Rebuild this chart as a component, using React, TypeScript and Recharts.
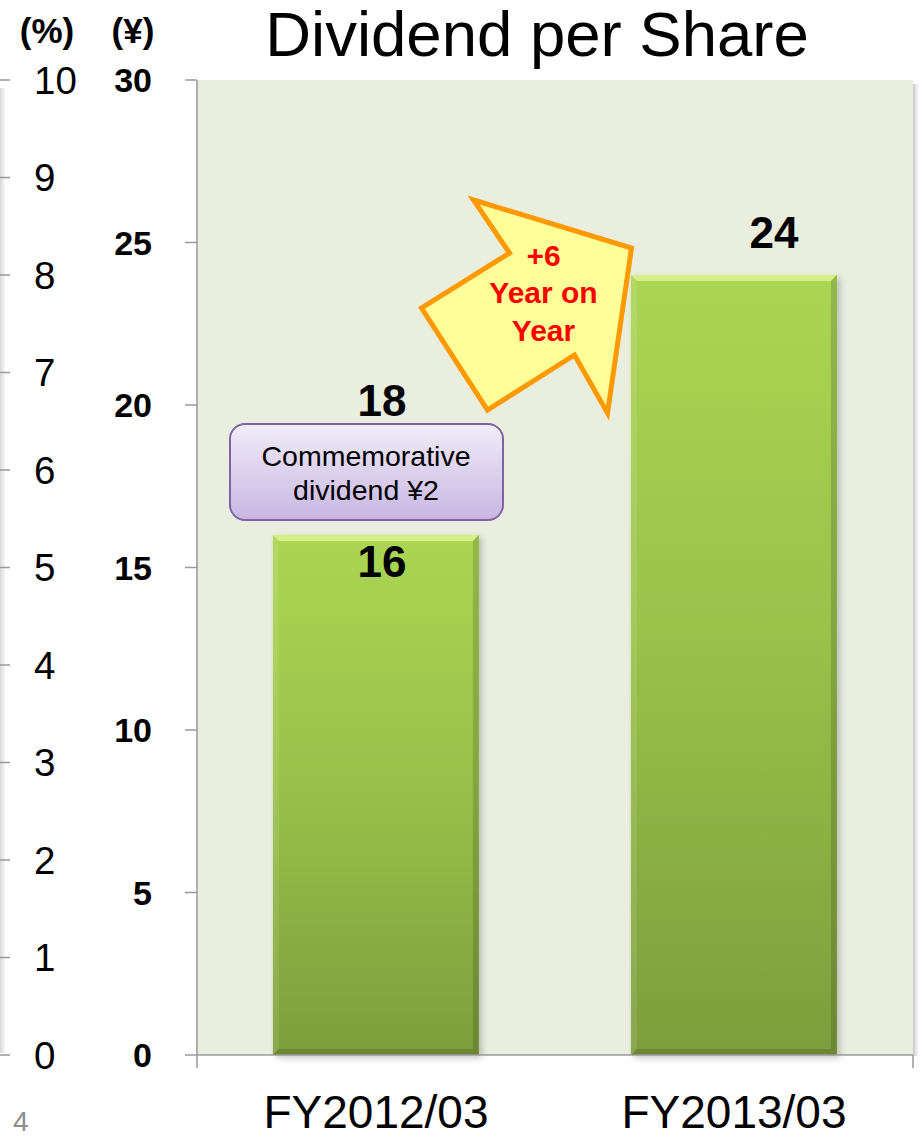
import React from "react"
import { BarChart, Bar, XAxis, YAxis, CartesianGrid, LabelList, ReferenceDot } from "recharts"

const categories = ["FY2012/03", "FY2013/03"]
const ordinaryDividend = [16, 24]
const commemorativeDividend = [2, 0]
const yenTicks = [0, 5, 10, 15, 20, 25, 30]
const pctTicks = [0, 1, 2, 3, 4, 5, 6, 7, 8, 9, 10]
const edgeTicks = [0, 1, 2]

const data = categories.map((name, i) => ({
  name,
  ordinary: ordinaryDividend[i],
  total: ordinaryDividend[i] + commemorativeDividend[i],
}))

const FONT = "'Liberation Sans', Arial, sans-serif"
const AXIS = { stroke: "#9a9a9a", strokeWidth: 1.5 }

function BevelBar(p: any) {
  const { x, y, width, height } = p
  const b = 6
  return (
    <g>
      <defs>
        <linearGradient id="barGrad" x1="0" y1="0" x2="0" y2="1">
          <stop offset="0%" stopColor="#abd553" />
          <stop offset="45%" stopColor="#99c34a" />
          <stop offset="100%" stopColor="#7e9d3c" />
        </linearGradient>
        <filter id="barShadow" x="-10%" y="-10%" width="130%" height="120%">
          <feDropShadow dx="3" dy="3" stdDeviation="3" floodColor="#000" floodOpacity="0.22" />
        </filter>
      </defs>
      <rect x={x} y={y} width={width} height={height} fill="url(#barGrad)" filter="url(#barShadow)" />
      <polygon points={`${x},${y} ${x + width},${y} ${x + width - b},${y + b} ${x + b},${y + b}`} fill="#d6f088" />
      <polygon points={`${x},${y} ${x + b},${y + b} ${x + b},${y + height - b} ${x},${y + height}`} fill="#ffffff" opacity={0.1} />
      <polygon points={`${x + width},${y} ${x + width},${y + height} ${x + width - b},${y + height - b} ${x + width - b},${y + b}`} fill="#000000" opacity={0.14} />
      <polygon points={`${x},${y + height} ${x + width},${y + height} ${x + width - b},${y + height - b} ${x + b},${y + height - b}`} fill="#000000" opacity={0.14} />
    </g>
  )
}

function ValueLabel(p: any) {
  const { x, y, width, value, index } = p
  // first bar shows its value inside the top, second above
  const inside = index === 0
  const cx = x + width / 2 + (inside ? 6 : 40)
  const cy = inside ? y + 26 : y - 43
  return (
    <text x={cx} y={cy} textAnchor="middle" dominantBaseline="central" fontFamily={FONT} fontWeight="bold" fontSize={44} fill="#000">
      {value}
    </text>
  )
}

function CommemorativeBox(p: any) {
  const { cx, cy } = p
  return (
    <g>
      <defs>
        <linearGradient id="boxGrad" x1="0" y1="0" x2="0" y2="1">
          <stop offset="0%" stopColor="#f1edf9" />
          <stop offset="100%" stopColor="#c8b6e2" />
        </linearGradient>
      </defs>
      <text x={cx + 6} y={cy - 70} textAnchor="middle" dominantBaseline="central" fontFamily={FONT} fontWeight="bold" fontSize={44} fill="#000">
        {data[0].total}
      </text>
      <rect x={cx - 146} y={cy - 46} width={273} height={96} rx={15} fill="url(#boxGrad)" stroke="#8064a2" strokeWidth={2} />
      <text x={cx - 10} y={cy - 14} textAnchor="middle" dominantBaseline="central" fontFamily={FONT} fontSize={28.5} fill="#000">Commemorative</text>
      <text x={cx - 10} y={cy + 20} textAnchor="middle" dominantBaseline="central" fontFamily={FONT} fontSize={28.5} fill="#000">dividend ¥{commemorativeDividend[0]}</text>
    </g>
  )
}

function YoYArrow(p: any) {
  const { cx, cy } = p
  const pts = [
    [-260.5, -75], [-102.5, -27], [-126.5, 138], [-159.5, 80],
    [-246.5, 135], [-312.5, 33], [-224.5, -22],
  ].map(([dx, dy]) => `${cx + dx},${cy + dy}`).join(" ")
  const diff = data[1].total - data[0].total
  const tx = cx - 190.5
  return (
    <g>
      <polygon points={pts} fill="#ffff99" stroke="#ff9900" strokeWidth={5} strokeLinejoin="miter" />
      <g fontFamily={FONT} fontWeight="bold" fontSize={30} fill="#ff0000" textAnchor="middle">
        <text x={tx} y={cy - 20} dominantBaseline="central">+{diff}</text>
        <text x={tx} y={cy + 17} dominantBaseline="central">Year on</text>
        <text x={tx} y={cy + 55} dominantBaseline="central">Year</text>
      </g>
    </g>
  )
}

function PctTick(p: any) {
  const { x, y, payload } = p
  return (
    <text x={x + 36} y={y} textAnchor="start" dominantBaseline="central" fontFamily={FONT} fontSize={38.5} fill="#000">
      {payload.value}
    </text>
  )
}

const NoTick = () => <g />

export default function App() {
  return (
    <div style={{ position: "absolute", left: 0, top: 0, width: 923, height: 1138, background: "#fff", fontFamily: FONT }}>
      <div style={{ position: "absolute", left: 0, top: 88, width: 6, height: 965, background: "linear-gradient(to right, #d8d8d8, #ffffff)" }} />
      <div style={{ position: "absolute", left: 913, top: 84, width: 6, height: 972, background: "linear-gradient(to right, #c8c8c8, #ffffff)" }} />
      <BarChart
        width={923}
        height={1138}
        data={data}
        margin={{ top: 80, right: 10, bottom: 0, left: 0 }}
        barCategoryGap="21.2%"
        style={{ position: "absolute", left: 0, top: 0 }}
      >
        <CartesianGrid horizontal={false} vertical={false} fill="#eaeedf" xAxisId="a_edge" yAxisId="a_yen" />
        <XAxis xAxisId="b_cat" dataKey="name" height={82} axisLine={false} tickLine={false} tickSize={0} tickMargin={39} tick={{ fontSize: 46, fill: "#000", fontFamily: FONT }} interval={0} />
        <XAxis xAxisId="a_edge" type="number" domain={[0, 2]} ticks={edgeTicks} allowDataOverflow interval={0} tick={<NoTick />} tickSize={13} height={1} axisLine={AXIS} tickLine={AXIS} />
        <YAxis yAxisId="b_pct" width={10} domain={[0, 10]} ticks={pctTicks} allowDataOverflow interval={0} tickSize={10} tickMargin={2} axisLine={false} tickLine={AXIS} tick={<PctTick />} />
        <YAxis yAxisId="a_yen" width={187} domain={[0, 30]} ticks={yenTicks} interval={0} tickSize={12} tickMargin={33} axisLine={AXIS} tickLine={AXIS} tick={{ fontSize: 34, fontWeight: "bold", fill: "#000", fontFamily: FONT }} />
        <Bar dataKey="ordinary" xAxisId="b_cat" yAxisId="a_yen" shape={<BevelBar />} isAnimationActive={false}>
          <LabelList dataKey="ordinary" content={<ValueLabel />} />
        </Bar>
        <ReferenceDot xAxisId="b_cat" yAxisId="a_yen" x={categories[0]} y={data[0].total} ifOverflow="visible" shape={<CommemorativeBox />} />
        <ReferenceDot xAxisId="b_cat" yAxisId="a_yen" x={categories[1]} y={data[1].total} ifOverflow="visible" shape={<YoYArrow />} />
      </BarChart>
      <svg width={923} height={1138} style={{ position: "absolute", left: 0, top: 0, pointerEvents: "none" }}>
        <text x={47} y={30} textAnchor="middle" dominantBaseline="central" fontFamily={FONT} fontWeight="bold" fontSize={35} fill="#000">(%)</text>
        <text x={133} y={30} textAnchor="middle" dominantBaseline="central" fontFamily={FONT} fontWeight="bold" fontSize={35} fill="#000">(¥)</text>
        <text x={537} y={56} textAnchor="middle" fontFamily={FONT} fontSize={63.5} fill="#000">Dividend per Share</text>
        <text x={13} y={1131} fontFamily={FONT} fontSize={28} fill="#8c8c8c">4</text>
      </svg>
    </div>
  )
}
